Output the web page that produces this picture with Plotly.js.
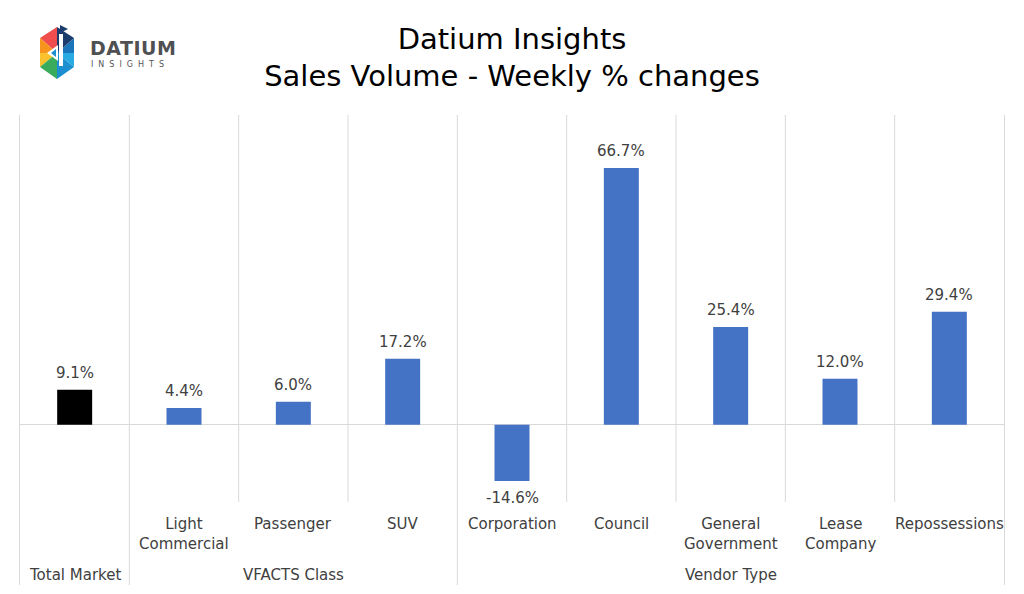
<!DOCTYPE html>
<html>
<head>
<meta charset="utf-8">
<script src="https://cdn.plot.ly/plotly-3.0.1.min.js"></script>
<style>
  body { margin: 0; background: #fff; }
  #wrap { position: relative; width: 1024px; height: 594px; }
  #chart { width: 1024px; height: 594px; }
  #logo { position: absolute; left: 36px; top: 24px; }
</style>
</head>
<body>
<div id="wrap">
  <div id="chart"></div>
  <svg id="logo" width="150" height="60" viewBox="0 0 150 60">
    <!-- hexagon made of coloured triangles -->
    <polygon points="21,3 21,29 4,14" fill="#f04e4e"/>
    <polygon points="4,14 21,29 4,29" fill="#f7941d"/>
    <polygon points="4,29 21,29 4,43" fill="#f9c22e"/>
    <polygon points="4,43 21,29 21,55" fill="#3aaa5c"/>
    <polygon points="21,55 21,29 38,43" fill="#1c8fd1"/>
    <polygon points="38,43 21,29 38,29" fill="#29abe2"/>
    <polygon points="38,29 21,29 38,14" fill="#1b75bb"/>
    <polygon points="38,14 21,29 21,3" fill="#1d3c6e"/>
    <polygon points="24,1 32,5 24,9" fill="#1d3c6e"/>
    <polygon points="11,29 22,21 22,37" fill="#ffffff"/>
    <polygon points="15,29 20,25 20,33" fill="#1c8fd1"/>
    <rect x="23" y="10" width="4" height="32" fill="#ffffff"/>
    <text x="54" y="31" font-family="DejaVu Sans" font-size="19" font-weight="bold" fill="#505052" letter-spacing="0.5">DATIUM</text>
    <text x="55" y="43" font-family="DejaVu Sans" font-size="8" fill="#555" letter-spacing="5">INSIGHTS</text>
  </svg>
</div>
<script>
// categories, in the order they are drawn
var categories = ["Total Market", "Light Commercial", "Passenger", "SUV", "Corporation",
                  "Council", "General Government", "Lease Company", "Repossessions"];
// weekly % change in sales volume
var changes = [9.1, 4.4, 6.0, 17.2, -14.6, 66.7, 25.4, 12.0, 29.4];
// labels under each bar
var subLabels = ["", "Light<br>Commercial", "Passenger", "SUV", "Corporation",
                 "Council", "General<br>Government", "Lease<br>Company", "Repossessions"];
// group names with first/last category index
var groupNames = ["Total Market", "VFACTS Class", "Vendor Type"];
var groupStart = [0, 1, 4];
var groupEnd = [0, 3, 8];

var blue = "#4472C4";
var grid = "#d9d9d9";
var textCol = "#404040";
var font = "DejaVu Sans";

var trace1 = {
    x: categories,
    y: changes,
    type: "bar",
    width: 0.32,
    marker: {color: categories.map((c, i) => i === 0 ? "#000000" : blue)},
    hoverinfo: "x+y"
};

var data = [trace1];

var shapes = [];
var annotations = [];

// value labels just past the end of each bar
changes.forEach(function (v, i) {
    annotations.push({x: categories[i], y: v, xref: "x", yref: "y",
                      text: v.toFixed(1) + "%", showarrow: false,
                      yanchor: v >= 0 ? "bottom" : "top", yshift: v >= 0 ? 6 : -6,
                      font: {family: font, size: 15, color: textCol}});
});

// separators: inner ones stop above the labels, group ones go all the way down
groupNames.forEach(function (g, k) {
    for (var i = groupStart[k] + 1; i <= groupEnd[k]; i++) {
        shapes.push({type: "line", xref: "x", yref: "y", x0: i - 0.5, x1: i - 0.5,
                     y0: -20, y1: 80.5, line: {color: grid, width: 1}});
    }
    if (k > 0) {
        shapes.push({type: "line", xref: "x", yref: "y", x0: groupStart[k] - 0.5, x1: groupStart[k] - 0.5,
                     y0: -41.6, y1: 80.5, line: {color: grid, width: 1}});
    }
    annotations.push({x: (groupStart[k] + groupEnd[k]) / 2, y: -39, xref: "x", yref: "y",
                      text: g, showarrow: false, yanchor: "middle",
                      font: {family: font, size: 15, color: textCol}});
});
subLabels.forEach(function (s, i) {
    if (!s) return;
    annotations.push({x: i, y: -22.8, xref: "x", yref: "y", text: s, showarrow: false,
                      yanchor: "top", font: {family: font, size: 15, color: textCol}});
});

var layout = {
    width: 1024,
    height: 594,
    margin: {l: 20, r: 20, t: 115, b: 9},
    paper_bgcolor: "#ffffff",
    plot_bgcolor: "#ffffff",
    showlegend: false,
    title: {
        text: "Datium Insights<br>Sales Volume - Weekly % changes",
        font: {family: font, size: 29, color: "#000000"},
        x: 0.5, xanchor: "center",
        y: 0.918, yanchor: "middle", yref: "container"
    },
    xaxis: {
        type: "category",
        range: [-0.5, 8.5],
        showticklabels: false,
        showgrid: false,
        showline: false,
        zeroline: false,
        ticks: ""
    },
    yaxis: {
        range: [-41.6, 80.5],
        showticklabels: false,
        showgrid: false,
        ticks: "",
        showline: true,
        mirror: true,
        linecolor: grid,
        linewidth: 1,
        zeroline: true,
        zerolinecolor: grid,
        zerolinewidth: 1
    },
    shapes: shapes,
    annotations: annotations
};
Plotly.newPlot("chart", data, layout, {displayModeBar: false});
</script>
</body>
</html>
